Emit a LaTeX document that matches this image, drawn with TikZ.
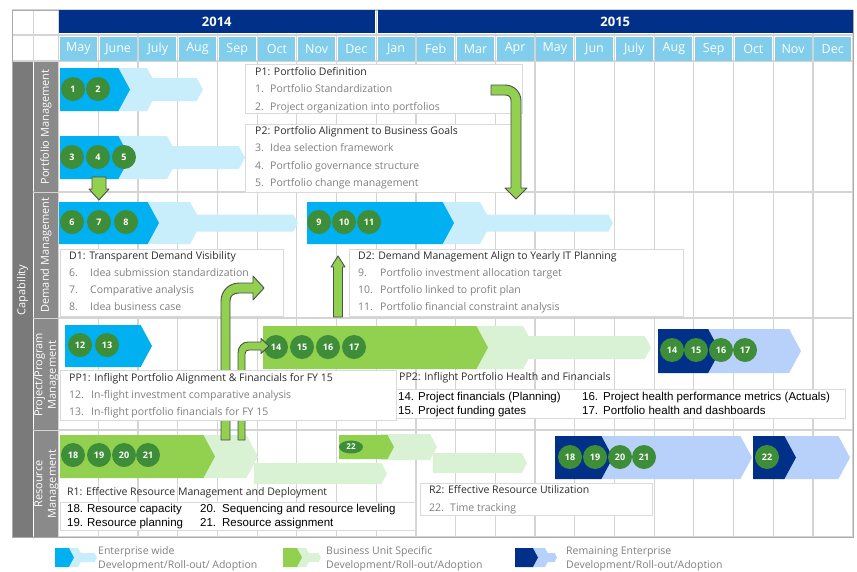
\documentclass[tikz,border=0pt]{standalone}
\usepackage{fontspec}
\setmainfont{Open Sans}
\newfontfamily\arialfont{Liberation Sans}
\usetikzlibrary{shapes.geometric}
\definecolor{navyD}{RGB}{0,48,135}
\definecolor{navyL}{RGB}{184,209,250}
\definecolor{cyanD}{RGB}{0,176,240}
\definecolor{cyanL}{RGB}{200,238,251}
\definecolor{greenD}{RGB}{146,208,80}
\definecolor{greenL}{RGB}{216,242,211}
\definecolor{circG}{RGB}{62,141,56}
\definecolor{monthB}{RGB}{128,206,236}
\definecolor{gridG}{RGB}{212,212,212}
\definecolor{frameG}{RGB}{170,170,170}
\definecolor{boxG}{RGB}{217,217,217}
\definecolor{capG}{RGB}{122,122,122}
\definecolor{rowG}{RGB}{138,138,138}
\definecolor{titleT}{RGB}{45,45,45}
\definecolor{itemT}{RGB}{128,128,128}
\definecolor{edgeG}{RGB}{77,77,77}
% dark phase: x start, x tip, y top, y bottom, colour
\newcommand{\darkbar}[5]{%
  \fill[#5] (#1,#3) -- ({#2-0.27*(#4-#3)},#3) -- (#2,{(#3+#4)/2})
    -- ({#2-0.27*(#4-#3)},#4) -- (#1,#4) -- cycle;}
% light phase: x start, x corner, x tip, y top, y bottom, inset, colour
\newcommand{\lightbar}[7]{%
  \fill[#7] (#1,#4) -- (#2,#4) -- ({#2+0.55*#6},{#4+#6})
    -- ({#3-0.27*(#5-#4-2*#6)},{#4+#6}) -- (#3,{(#4+#5)/2})
    -- ({#3-0.27*(#5-#4-2*#6)},{#5-#6}) -- ({#2+0.55*#6},{#5-#6})
    -- (#2,#5) -- (#1,#5) -- cycle;}
\begin{document}
\begin{tikzpicture}[x=1pt,y=-1pt,
    gridln/.style={draw=gridG,line width=1.2pt},
    month/.style={fill=monthB,text=white,minimum width=37pt,minimum height=24pt,inner sep=0pt,font=\fontsize{12.5}{14}\selectfont},
    yearbar/.style={fill=navyD,text=white,minimum height=23pt,inner sep=0pt,font=\fontsize{13}{15}\selectfont\bfseries},
    rowlbl/.style={rotate=90,text=white,align=center,inner sep=0pt,font=\fontsize{11}{13.5}\selectfont},
    num/.style={circle,fill=circG,text=white,minimum size=24pt,inner sep=0pt,font=\fontsize{9}{10}\selectfont\bfseries},
    txtbox/.style={draw=boxG,fill=white,line width=0.8pt},
    ttl/.style={anchor=west,inner sep=0pt,text=titleT,font=\fontsize{10.5}{12}\selectfont,text height=1.5ex,text depth=.3ex},
    itm/.style={ttl,text=itemT},
    blk/.style={anchor=west,inner sep=0pt,text=black,font=\arialfont\fontsize{11.5}{13}\selectfont,text height=1.5ex,text depth=.3ex},
    blockarrow/.style={fill=greenD,draw=edgeG,line width=0.9pt,line join=round}]
  \useasboundingbox[fill=white] (0,0) rectangle (857,571);
  % grid
  \foreach \k in {0,...,20}
    \draw[gridln] ({58.6+39.7*\k},10) -- ({58.6+39.7*\k},537);
  \foreach \y in {10,35,61,192,318,430,537}
    \draw[gridln] (12,\y) -- (853,\y);
  \draw[gridln] (33.5,10) -- (33.5,61);
  \draw[frameG,line width=1pt] (12,10) rectangle (853,537);
  % header
  \node[yearbar,minimum width=315.5pt] (y14) at (216.8,21.5) {2014};
  \node[yearbar,minimum width=474.5pt] (y15) at (615.3,21.5) {2015};
  \foreach \m [count=\k from 0] in {May,June,July,Aug,Sep,Oct,Nov,Dec,Jan,Feb,Mar,Apr,May,Jun,July,Aug,Sep,Oct,Nov,Dec}
    \node[month] (m\k) at ({58.6+39.7*\k+19.85},49) {\m};
  % capability columns
  \fill[capG] (12.5,61.5) rectangle (33,536.5);
  \fill[rowG] (34,62) rectangle (58,191.5);
  \fill[rowG] (34,192.5) rectangle (58,317.5);
  \fill[rowG] (34,318.5) rectangle (58,429.5);
  \fill[rowG] (34,430.5) rectangle (58,536.5);
  \node[rowlbl] (cap) at (22.5,290) {Capability};
  \node[rowlbl] (lpm) at (46,127) {Portfolio Management};
  \node[rowlbl] (ldm) at (46,255) {Demand Management};
  \node[rowlbl] (lpp) at (46.5,375) {Project/Program\\Management};
  \node[rowlbl] (lrm) at (46.5,484) {Resource\\Management};
  % portfolio bars
  \lightbar{110}{147}{203}{68}{111}{10}{cyanL}
  \darkbar{60}{130}{68}{111}{cyanD}
  \lightbar{110}{167}{245}{136}{179}{10}{cyanL}
  \darkbar{60}{130}{136}{179}{cyanD}
  \foreach \n/\x in {1/73,2/98}
    \node[num] (c\n) at (\x,89) {\n};
  \foreach \n/\x in {3/72,4/98,5/124}
    \node[num] (c\n) at (\x,157) {\n};
  % demand bars
  \lightbar{140}{190}{298}{202}{244}{12.5}{cyanL}
  \darkbar{59}{159}{202}{244}{cyanD}
  \lightbar{440}{480}{613}{202}{244}{12.5}{cyanL}
  \darkbar{307}{454}{202}{244}{cyanD}
  \foreach \n/\x in {6/72,7/99,8/126,9/319,10/344,11/369}
    \node[num] (c\n) at (\x,222) {\n};
  % project bars
  \darkbar{65}{152}{325}{367}{cyanD}
  \lightbar{470}{523}{651}{326}{369}{10}{greenL}
  \darkbar{263}{488}{326}{369}{greenD}
  \lightbar{705}{792}{801}{329}{373}{0}{navyL}
  \darkbar{658}{720}{329}{373}{navyD}
  \foreach \n/\x in {12/80,13/107}
    \node[num] (c\n) at (\x,345) {\n};
  \foreach \n/\x in {14/276,15/302,16/328,17/354}
    \node[num] (c\n) at (\x,347) {\n};
  \foreach \n/\x in {14/672,15/696,16/721,17/745}
    \node[num] (e\n) at (\x,350) {\n};
  % resource bars
  \darkbar{254}{387}{463}{484}{greenL}
  \darkbar{200}{258}{435}{478}{greenL}
  \darkbar{60}{215}{435}{478}{greenD}
  \darkbar{433}{527}{453}{473}{greenL}
  \darkbar{380}{437}{434}{460}{greenL}
  \darkbar{339}{394}{435}{459}{greenD}
  \darkbar{600}{752}{436}{479}{navyL}
  \darkbar{555}{613}{436}{479}{navyD}
  \darkbar{780}{850}{436}{479}{navyL}
  \darkbar{753}{796}{436}{479}{navyD}
  \foreach \n/\x in {18/73,19/99,20/124,21/148}
    \node[num] (c\n) at (\x,455) {\n};
  \node[num,ellipse,minimum width=24pt,minimum height=13pt,font=\fontsize{8}{9}\selectfont\bfseries] (c22) at (351,447) {22};
  \foreach \n/\x in {18/570,19/595,20/620,21/644,22/767}
    \node[num] (e\n) at (\x,457) {\n};
  % text boxes, upper rows
  \draw[txtbox] (245,64) rectangle (522,113);
  \node[ttl] (p1t) at (255,72) {P1: Portfolio Definition};
  \node[itm] (p1a) at (255,89) {\makebox[15pt][l]{1.}Portfolio Standardization};
  \node[itm] (p1b) at (255,107) {\makebox[15pt][l]{2.}Project organization into portfolios};
  \draw[txtbox] (245,124) rectangle (512,192);
  \node[ttl] (p2t) at (255,131) {P2: Portfolio Alignment to Business Goals};
  \node[itm] (p2a) at (255,148) {\makebox[15pt][l]{3.}Idea selection framework};
  \node[itm] (p2b) at (255,166) {\makebox[15pt][l]{4.}Portfolio governance structure};
  \node[itm] (p2c) at (255,183) {\makebox[15pt][l]{5.}Portfolio change management};
  \draw[txtbox] (60,249) rectangle (283,316);
  \node[ttl] (d1t) at (69,256) {D1: Transparent Demand Visibility};
  \node[itm] (d1a) at (69,273) {\makebox[21pt][l]{6.}Idea submission standardization};
  \node[itm] (d1b) at (69,290) {\makebox[21pt][l]{7.}Comparative analysis};
  \node[itm] (d1c) at (69,307) {\makebox[21pt][l]{8.}Idea business case};
  \draw[txtbox] (349,249) rectangle (683,316);
  \node[ttl] (d2t) at (358,256) {D2: Demand Management Align to Yearly IT Planning};
  \node[itm] (d2a) at (358,273) {\makebox[22pt][l]{9.}Portfolio investment allocation target};
  \node[itm] (d2b) at (358,290) {\makebox[22pt][l]{10.}Portfolio linked to profit plan};
  \node[itm] (d2c) at (358,307) {\makebox[22pt][l]{11.}Portfolio financial constraint analysis};
  % green arrows
  \draw[blockarrow] (92,177) -- (106,177) -- (106,189) -- (109,189) -- (99,200)
    -- (89,189) -- (92,189) -- cycle;
  \draw[blockarrow] (491,85) -- (505,85) .. controls (514,85) and (521,92) .. (521,101)
    -- (521,188) -- (527,188) -- (516,199) -- (505,188) -- (511,188) -- (511,101)
    .. controls (511,97) and (509,95) .. (505,95) -- (491,95) -- cycle;
  \draw[blockarrow] (333.5,317) -- (333.5,267) -- (331,267) -- (338,256) -- (345,267)
    -- (342.5,267) -- (342.5,317) -- cycle;
  \draw[blockarrow] (221,440) -- (221,301) .. controls (221,291) and (229,283) .. (239,283)
    -- (253,283) -- (253,276) -- (264,288) -- (253,300) -- (253,293) -- (239,293)
    .. controls (233,293) and (230,296) .. (230,301) -- (230,440) -- cycle;
  \draw[blockarrow] (238,440) -- (238,353) .. controls (238,347) and (242,342) .. (248,342)
    -- (261,342) -- (261,338.5) -- (269,346) -- (261,353.5) -- (261,350) -- (249,350)
    .. controls (247,350) and (245,351) .. (245,354) -- (245,440) -- cycle;
  % text boxes, lower rows
  \draw[txtbox] (60,370) rectangle (396,420);
  \node[ttl] (pp1t) at (69,378) {PP1: Inflight Portfolio Alignment \& Financials for FY 15};
  \node[itm] (pp1a) at (69,395) {\makebox[22pt][l]{12.}In-flight investment comparative analysis};
  \node[itm] (pp1b) at (69,412) {\makebox[22pt][l]{13.}In-flight portfolio financials for FY 15};
  \node[ttl] (pp2t) at (399,377) {PP2: Inflight Portfolio Health and Financials};
  \draw[txtbox] (396,389) rectangle (845,418);
  \node[blk] (pp2a) at (398,397) {\makebox[20pt][l]{14.}Project financials (Planning)};
  \node[blk] (pp2b) at (398,411) {\makebox[20pt][l]{15.}Project funding gates};
  \node[blk] (pp2c) at (582,397) {\makebox[21pt][l]{16.}Project health performance metrics (Actuals)};
  \node[blk] (pp2d) at (582,411) {\makebox[21pt][l]{17.}Portfolio health and dashboards};
  \node[ttl] (r1t) at (67,492) {R1: Effective Resource Management and Deployment};
  \draw[txtbox] (60,502) rectangle (415,530);
  \node[blk] (r1a) at (67,509) {\makebox[20pt][l]{18.}Resource capacity};
  \node[blk] (r1b) at (67,523) {\makebox[20pt][l]{19.}Resource planning};
  \node[blk] (r1c) at (200,509) {\makebox[22pt][l]{20.}Sequencing and resource leveling};
  \node[blk] (r1d) at (200,523) {\makebox[22pt][l]{21.}Resource assignment};
  \draw[txtbox] (420,483) rectangle (652,515);
  \node[ttl] (r2t) at (429,490) {R2: Effective Resource Utilization};
  \node[itm] (r2a) at (429,508) {\makebox[21pt][l]{22.}Time tracking};
  % legend
  \lightbar{66}{78}{97}{548}{567}{5}{cyanL}
  \darkbar{55}{74}{548}{567}{cyanD}
  \node[itm] (lg1a) at (98,551) {Enterprise wide};
  \node[itm] (lg1b) at (98,565) {Development/Roll-out/ Adoption};
  \lightbar{294}{306}{321}{548}{567}{5}{greenL}
  \darkbar{283}{302}{548}{567}{greenD}
  \node[itm] (lg2a) at (326,551) {Business Unit Specific};
  \node[itm] (lg2b) at (326,565) {Development/Roll-out/Adoption};
  \lightbar{528}{545}{557}{548}{567}{5}{navyL}
  \darkbar{515}{538}{548}{567}{navyD}
  \node[itm] (lg3a) at (566,551) {Remaining Enterprise};
  \node[itm] (lg3b) at (566,565) {Development/Roll-out/Adoption};
\end{tikzpicture}
\end{document}
